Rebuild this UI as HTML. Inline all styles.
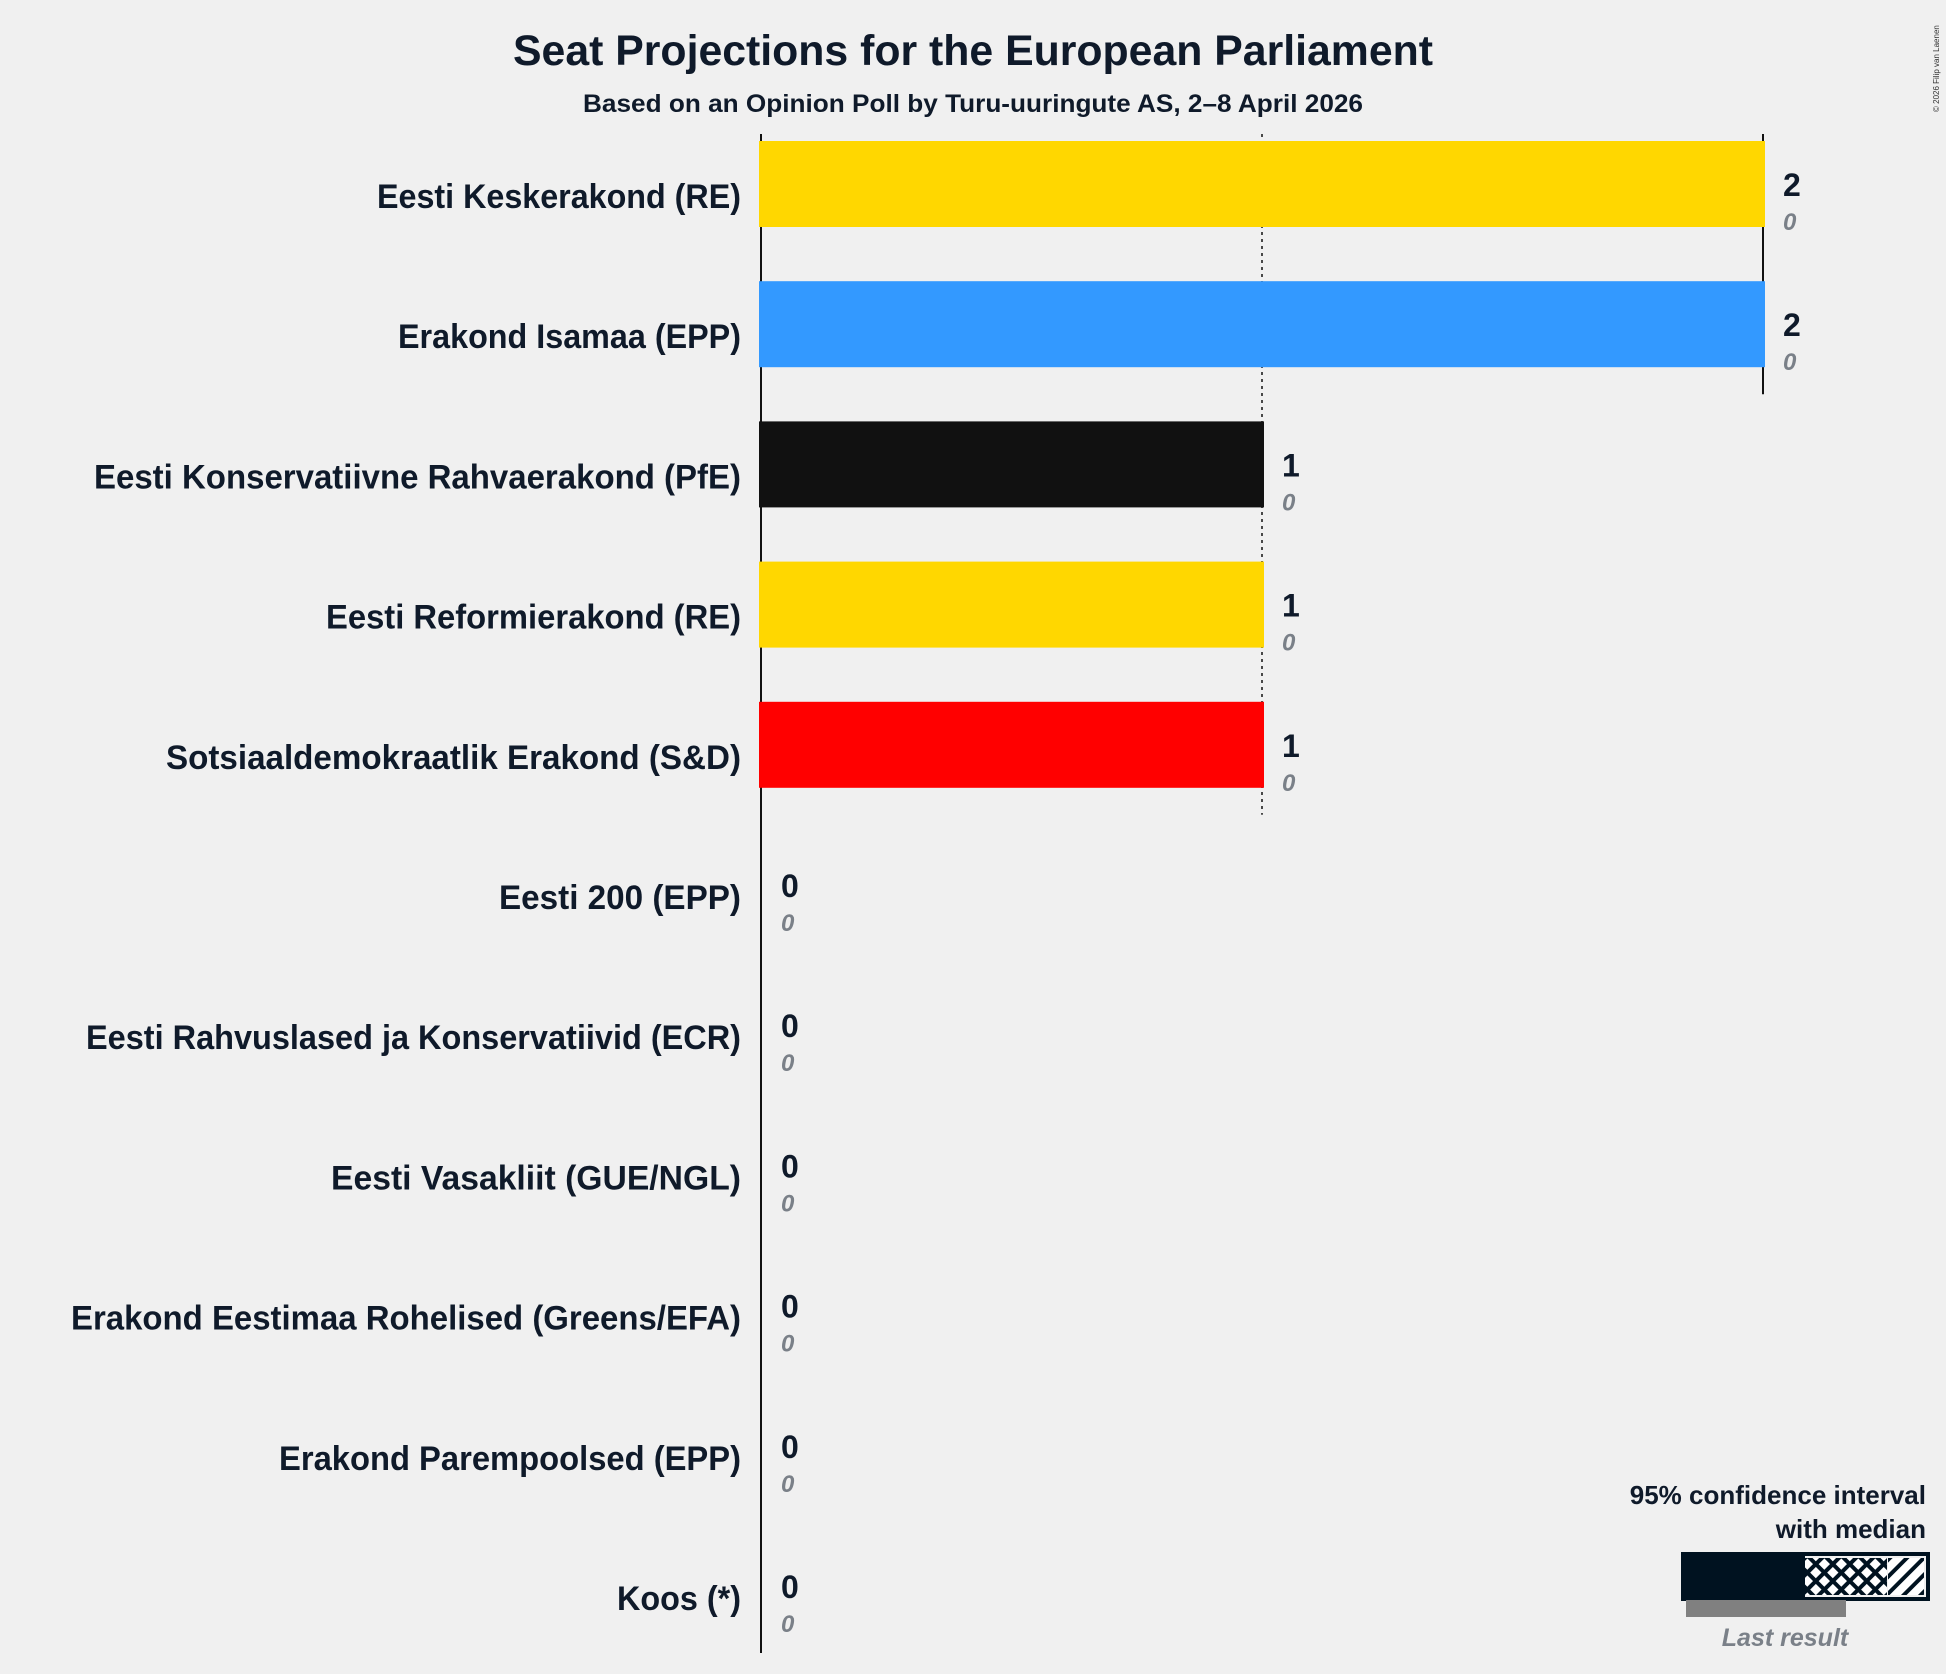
<!DOCTYPE html>
<html><head><meta charset="utf-8"><style>
html,body{margin:0;padding:0;background:#f0f0f0;}
svg{display:block;font-family:"Liberation Sans",sans-serif;}
</style></head><body>
<svg id="chart" width="1946" height="1674" viewBox="0 0 1946 1674" xmlns="http://www.w3.org/2000/svg">
<defs>
<pattern id="cross" patternUnits="userSpaceOnUse" width="12" height="12" patternTransform="rotate(45)">
<rect width="12" height="12" fill="#fff"/><rect width="4" height="12" fill="#001220"/><rect width="12" height="4" fill="#001220"/></pattern>
<pattern id="diag" patternUnits="userSpaceOnUse" width="12" height="12" patternTransform="rotate(45)">
<rect width="12" height="12" fill="#fff"/><rect width="4" height="12" fill="#001220"/></pattern>
</defs>
<rect width="1946" height="1674" fill="#f0f0f0"/>
<text x="973" y="65" text-anchor="middle" font-size="43" font-weight="bold" fill="#0f1a2a" textLength="920" lengthAdjust="spacingAndGlyphs">Seat Projections for the European Parliament</text>
<text x="973" y="112" text-anchor="middle" font-size="25" font-weight="bold" fill="#0f1a2a" textLength="780" lengthAdjust="spacingAndGlyphs">Based on an Opinion Poll by Turu-uuringute AS, 2–8 April 2026</text>
<text transform="translate(1939,112) rotate(-90)" font-size="8" fill="#333">© 2026 Filip van Laenen</text>
<g id="grid"></g>
<g id="bars"></g>
<g>
<text x="1926" y="1504" text-anchor="end" font-size="26" font-weight="bold" fill="#0f1a2a">95% confidence interval</text>
<text x="1926" y="1538" text-anchor="end" font-size="26" font-weight="bold" fill="#0f1a2a">with median</text>
<rect x="1683" y="1554" width="122" height="45" fill="#001220"/>
<rect x="1805" y="1558" width="82" height="37" fill="url(#cross)"/>
<rect x="1888" y="1558" width="36" height="37" fill="url(#diag)"/>
<rect x="1683" y="1554" width="245" height="45" fill="none" stroke="#001220" stroke-width="4"/>
<rect x="1686" y="1600" width="160" height="17" fill="#808080"/>
<text x="1785" y="1646" text-anchor="middle" font-size="25" font-style="italic" font-weight="bold" fill="#7a8088">Last result</text>
</g>
</svg>
<script>
const parties = ["Eesti Keskerakond (RE)","Erakond Isamaa (EPP)","Eesti Konservatiivne Rahvaerakond (PfE)","Eesti Reformierakond (RE)","Sotsiaaldemokraatlik Erakond (S&D)","Eesti 200 (EPP)","Eesti Rahvuslased ja Konservatiivid (ECR)","Eesti Vasakliit (GUE/NGL)","Erakond Eestimaa Rohelised (Greens/EFA)","Erakond Parempoolsed (EPP)","Koos (*)"];
const medians = [2,2,1,1,1,0,0,0,0,0,0];
const lastResults = [0,0,0,0,0,0,0,0,0,0,0];
const colors = ["#FFD700","#3399FF","#111111","#FFD700","#FF0000","#3399FF","#222222","#CC0000","#66BB33","#3399FF","#888888"];
const gridTicks = [0,1,2];
// layout
const x0 = 761, perSeat = 501, rowTop = 184, pitch = 140.2, barH = 86;
const labelWidths = [364,343,647,415,575,242,655,410,670,462,124];
const ns = "http://www.w3.org/2000/svg";
const xs = v => x0 + v*perSeat;
const ys = i => rowTop + i*pitch;
function mk(tag, attrs, parent){const e=document.createElementNS(ns,tag);for(const k in attrs)e.setAttribute(k,attrs[k]);parent.appendChild(e);return e;}
const grid = document.getElementById('grid'), bars = document.getElementById('bars');
const maxV = Math.max(...medians);
gridTicks.forEach(t=>{
  if(t===0)return;
  let last=-1; medians.forEach((m,i)=>{if(m>=t)last=i;});
  const y2 = ys(last)+barH/2+ (t===maxV?27:27);
  const l = mk('line',{x1:xs(t),x2:xs(t),y1:134,y2:y2,stroke:'#111','stroke-width':t===maxV?2:1.5,'stroke-dasharray':t===maxV?'':'3,4'},grid);
  
  
});
const ax = mk('line',{x1:x0,x2:x0,y1:134,y2:1653,stroke:'#111','stroke-width':2},grid);


parties.forEach((p,i)=>{
  const cy = ys(i);
  const lab = mk('text',{x:741,y:cy+24,'text-anchor':'end','font-size':34,'font-weight':'bold',fill:'#0f1a2a',textLength:labelWidths[i],lengthAdjust:'spacingAndGlyphs'},bars);
  lab.textContent = p;
  
  
  if(medians[i]>0){
    const r = mk('rect',{x:x0-2,y:cy-barH/2,width:xs(medians[i])-x0+4,height:barH,fill:colors[i]},bars);
    
    
  }
  const vx = medians[i]>0 ? xs(medians[i])+20 : x0+20;
  const v = mk('text',{x:vx,y:cy+12,'font-size':32,'font-weight':'bold',fill:'#0f1a2a'},bars);
  v.textContent = medians[i];
  
  
  const lr = mk('text',{x:vx,y:cy+46,'font-size':24,'font-style':'italic','font-weight':'bold',fill:'#7a8088'},bars);
  lr.textContent = lastResults[i];
  
  
});
</script>
</body></html>
